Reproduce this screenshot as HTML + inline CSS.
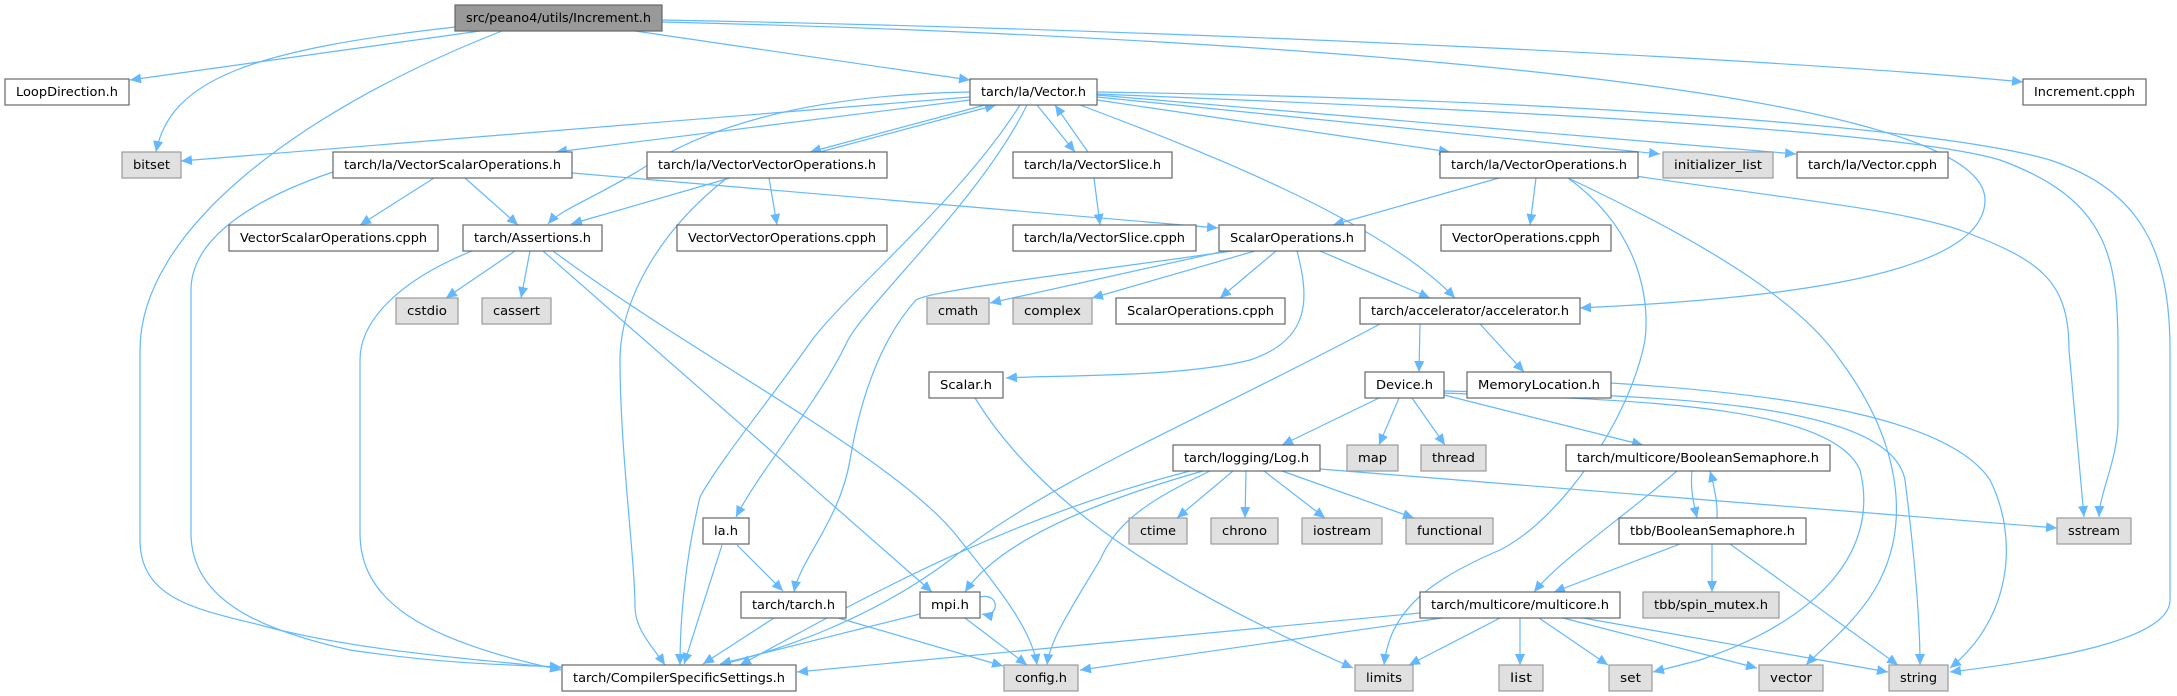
<!DOCTYPE html>
<html><head><meta charset="utf-8"><style>
html,body{margin:0;padding:0;background:#fff;}
svg{display:block;}
text{font-family:"DejaVu Sans","Liberation Sans",sans-serif;font-size:12px;fill:#000;}
.e{fill:none;stroke:#63b8ff;stroke-width:1.2;marker-end:url(#a);}
.n{fill:#fff;stroke:#666;stroke-width:1.2;}
.g{fill:#e0e0e0;stroke:#999;stroke-width:1.2;}
.r{fill:#999;stroke:#666;stroke-width:1.2;}
</style></head><body>
<svg width="2177" height="696" viewBox="0 0 2177 696" xmlns="http://www.w3.org/2000/svg">
<defs><marker id="a" markerUnits="userSpaceOnUse" markerWidth="12" markerHeight="10" refX="11" refY="5" orient="auto"><path d="M0,0 L11,5 L0,10 z" fill="#63b8ff"/></marker></defs>
<g>
<!-- Increment.h -->
<path class="e" d="M480,31 L130,80"/>
<path class="e" d="M455,27 C250,50 170,80 156,152"/>
<path class="e" d="M502,31 C300,110 140,230 140,350 L140,540 C140,600 200,610 260,625 C350,650 480,660 561,668"/>
<path class="e" d="M635,31 L970,80"/>
<path class="e" d="M662,20 C1200,30 1800,60 2023,82"/>
<path class="e" d="M662,22 C1200,35 1985,80 1985,200 C1985,280 1750,300 1580,308"/>
<!-- Vector.h -->
<path class="e" d="M970,97 L181,161"/>
<path class="e" d="M970,100 L556,152"/>
<path class="e" d="M970,92 C800,95 700,130 640,170 C590,200 560,210 548,224"/>
<path class="e" d="M985,105 L810,152"/>
<path class="e" d="M820,152 L996,105"/>
<path class="e" d="M1027,105 C980,200 870,300 848,340 C820,400 760,470 736,517"/>
<path class="e" d="M1020,105 C960,200 850,290 812,340 C770,400 720,460 700,497 C685,560 680,620 680,665"/>
<path class="e" d="M1037,105 L1075,152"/>
<path class="e" d="M1088,152 L1055,105"/>
<path class="e" d="M1080,105 C1200,150 1380,220 1455,298"/>
<path class="e" d="M1097,100 L1450,152"/>
<path class="e" d="M1097,97 L1660,154"/>
<path class="e" d="M1097,95 L1796,154"/>
<path class="e" d="M1097,94 C1500,110 1900,130 2000,160 C2110,200 2118,260 2118,350 L2118,420 C2118,460 2100,490 2099,517"/>
<path class="e" d="M1097,92 C1600,100 1950,130 2050,160 C2140,190 2170,250 2170,350 L2170,600 C2170,640 2050,660 1950,672"/>
<!-- VSO.h -->
<path class="e" d="M434,178 L360,225"/>
<path class="e" d="M465,178 L518,225"/>
<path class="e" d="M572,173 L1218,228"/>
<path class="e" d="M333,172 C250,200 191,240 191,290 L191,533 C191,600 260,630 350,650 C450,665 520,665 561,667"/>
<!-- VVO.h -->
<path class="e" d="M730,178 L571,224"/>
<path class="e" d="M769,178 L777,225"/>
<path class="e" d="M727,178 C660,230 620,300 620,360 C620,450 635,560 635,607 C635,630 655,650 665,665"/>
<!-- VectorSlice -->
<path class="e" d="M1094,178 L1100,225"/>
<!-- Assertions -->
<path class="e" d="M472,251 C400,280 360,320 360,360 L360,533 C360,600 420,640 561,670"/>
<path class="e" d="M515,251 L446,298"/>
<path class="e" d="M530,251 L521,298"/>
<path class="e" d="M543,251 L932,592"/>
<path class="e" d="M553,251 C700,360 900,460 960,540 C1000,590 1032,630 1037,665"/>
<!-- ScalarOperations.h -->
<path class="e" d="M1225,251 L990,303"/>
<path class="e" d="M1255,251 L1092,298"/>
<path class="e" d="M1276,251 L1220,298"/>
<path class="e" d="M1297,251 C1310,300 1310,340 1250,360 C1180,378 1050,375 1006,378"/>
<path class="e" d="M1232,251 C1100,270 930,290 916,300 C880,340 860,400 850,460 C840,520 800,560 794,592"/>
<path class="e" d="M1320,251 L1430,298"/>
<!-- VectorOperations.h -->
<path class="e" d="M1499,178 L1333,225"/>
<path class="e" d="M1536,178 L1530,225"/>
<path class="e" d="M1568,178 C1640,230 1650,300 1645,340 C1630,420 1560,520 1500,550 C1430,580 1390,610 1384,665"/>
<path class="e" d="M1568,178 C1700,240 1800,300 1840,360 C1900,440 1910,520 1880,580 C1860,620 1820,650 1806,665"/>
<path class="e" d="M1635,176 C1800,200 1900,210 1960,230 C2040,260 2069,280 2069,350 L2084,517"/>
<!-- accelerator -->
<path class="e" d="M1420,324 L1419,372"/>
<path class="e" d="M1480,324 L1524,372"/>
<path class="e" d="M1380,324 C1200,420 1050,480 950,560 C870,620 780,650 720,665"/>
<!-- Device.h -->
<path class="e" d="M1379,398 L1282,445"/>
<path class="e" d="M1399,398 L1379,445"/>
<path class="e" d="M1412,398 L1445,445"/>
<path class="e" d="M1444,395 L1643,445"/>
<path class="e" d="M1444,393 C1600,400 1830,400 1860,470 C1880,550 1820,620 1700,660 L1653,672"/>
<path class="e" d="M1444,391 C1650,395 1890,400 1905,480 C1915,560 1920,620 1920,665"/>
<!-- MemoryLocation -->
<path class="e" d="M1611,383 C1800,395 1950,420 1990,480 C2020,540 2010,620 1950,668"/>
<!-- Log.h -->
<path class="e" d="M1233,471 L1177,518"/>
<path class="e" d="M1246,471 L1245,518"/>
<path class="e" d="M1264,471 L1325,518"/>
<path class="e" d="M1282,471 L1414,518"/>
<path class="e" d="M1320,469 L2057,528"/>
<path class="e" d="M1203,471 C1100,500 1000,540 965,592"/>
<path class="e" d="M1210,471 C1150,500 1118,520 1100,560 C1070,610 1050,640 1047,665"/>
<path class="e" d="M1190,471 C1000,520 860,600 740,665"/>
<!-- mpi.h -->
<path class="e" d="M980,597 C1000,592 1000,618 982,614"/>
<path class="e" d="M920,614 L720,664"/>
<path class="e" d="M965,618 L1027,665"/>
<!-- tarch.h -->
<path class="e" d="M774,618 L703,664"/>
<path class="e" d="M835,617 L1003,666"/>
<!-- la.h -->
<path class="e" d="M722,545 L684,664"/>
<path class="e" d="M737,545 L783,591"/>
<!-- BooleanSemaphore -->
<path class="e" d="M1692,471 C1690,490 1694,505 1697,518"/>
<path class="e" d="M1717,518 C1718,505 1714,485 1710,471"/>
<path class="e" d="M1677,471 C1620,520 1560,560 1534,592"/>
<path class="e" d="M1680,544 L1554,592"/>
<path class="e" d="M1712,544 L1712,592"/>
<path class="e" d="M1730,544 L1898,665"/>
<!-- multicore -->
<path class="e" d="M1420,613 L797,672"/>
<path class="e" d="M1442,618 L1080,670"/>
<path class="e" d="M1500,618 L1409,665"/>
<path class="e" d="M1520,618 L1520,665"/>
<path class="e" d="M1539,618 L1608,665"/>
<path class="e" d="M1563,618 L1757,668"/>
<path class="e" d="M1583,618 L1888,672"/>
<!-- Scalar.h -->
<path class="e" d="M975,398 C1050,520 1200,600 1353,668"/>
</g>
<g>
<rect class="r" x="455" y="5" width="207" height="26"/><text x="558.5" y="22" text-anchor="middle" textLength="185" lengthAdjust="spacingAndGlyphs">src/peano4/utils/Increment.h</text>
<rect class="n" x="5" y="79" width="124" height="26"/><text x="67" y="96" text-anchor="middle" textLength="102" lengthAdjust="spacingAndGlyphs">LoopDirection.h</text>
<rect class="n" x="970" y="79" width="127" height="26"/><text x="1033.5" y="96" text-anchor="middle" textLength="105" lengthAdjust="spacingAndGlyphs">tarch/la/Vector.h</text>
<rect class="n" x="2023" y="79" width="123" height="26"/><text x="2084.5" y="96" text-anchor="middle" textLength="101" lengthAdjust="spacingAndGlyphs">Increment.cpph</text>

<rect class="g" x="122" y="152" width="59" height="26"/><text x="151.5" y="169" text-anchor="middle" textLength="37" lengthAdjust="spacingAndGlyphs">bitset</text>
<rect class="n" x="333" y="152" width="239" height="26"/><text x="452.5" y="169" text-anchor="middle" textLength="217" lengthAdjust="spacingAndGlyphs">tarch/la/VectorScalarOperations.h</text>
<rect class="n" x="647" y="152" width="240" height="26"/><text x="767" y="169" text-anchor="middle" textLength="218" lengthAdjust="spacingAndGlyphs">tarch/la/VectorVectorOperations.h</text>
<rect class="n" x="1013" y="152" width="159" height="26"/><text x="1092.5" y="169" text-anchor="middle" textLength="137" lengthAdjust="spacingAndGlyphs">tarch/la/VectorSlice.h</text>
<rect class="n" x="1440" y="152" width="198" height="26"/><text x="1539" y="169" text-anchor="middle" textLength="176" lengthAdjust="spacingAndGlyphs">tarch/la/VectorOperations.h</text>
<rect class="g" x="1663" y="152" width="110" height="26"/><text x="1718" y="169" text-anchor="middle" textLength="88" lengthAdjust="spacingAndGlyphs">initializer_list</text>
<rect class="n" x="1797" y="152" width="151" height="26"/><text x="1872.5" y="169" text-anchor="middle" textLength="129" lengthAdjust="spacingAndGlyphs">tarch/la/Vector.cpph</text>

<rect class="n" x="229" y="225" width="209" height="26"/><text x="333.5" y="242" text-anchor="middle" textLength="187" lengthAdjust="spacingAndGlyphs">VectorScalarOperations.cpph</text>
<rect class="n" x="463" y="225" width="139" height="26"/><text x="532.5" y="242" text-anchor="middle" textLength="117" lengthAdjust="spacingAndGlyphs">tarch/Assertions.h</text>
<rect class="n" x="677" y="225" width="210" height="26"/><text x="782" y="242" text-anchor="middle" textLength="188" lengthAdjust="spacingAndGlyphs">VectorVectorOperations.cpph</text>
<rect class="n" x="1013" y="225" width="183" height="26"/><text x="1104.5" y="242" text-anchor="middle" textLength="161" lengthAdjust="spacingAndGlyphs">tarch/la/VectorSlice.cpph</text>
<rect class="n" x="1219" y="225" width="146" height="26"/><text x="1292" y="242" text-anchor="middle" textLength="124" lengthAdjust="spacingAndGlyphs">ScalarOperations.h</text>
<rect class="n" x="1441" y="225" width="170" height="26"/><text x="1526" y="242" text-anchor="middle" textLength="148" lengthAdjust="spacingAndGlyphs">VectorOperations.cpph</text>

<rect class="g" x="396" y="298" width="62" height="26"/><text x="427" y="315" text-anchor="middle" textLength="40" lengthAdjust="spacingAndGlyphs">cstdio</text>
<rect class="g" x="482" y="298" width="69" height="26"/><text x="516.5" y="315" text-anchor="middle" textLength="47" lengthAdjust="spacingAndGlyphs">cassert</text>
<rect class="g" x="927" y="298" width="62" height="26"/><text x="958" y="315" text-anchor="middle" textLength="40" lengthAdjust="spacingAndGlyphs">cmath</text>
<rect class="g" x="1013" y="298" width="79" height="26"/><text x="1052.5" y="315" text-anchor="middle" textLength="57" lengthAdjust="spacingAndGlyphs">complex</text>
<rect class="n" x="1116" y="298" width="169" height="26"/><text x="1200.5" y="315" text-anchor="middle" textLength="147" lengthAdjust="spacingAndGlyphs">ScalarOperations.cpph</text>
<rect class="n" x="1360" y="298" width="220" height="26"/><text x="1470" y="315" text-anchor="middle" textLength="198" lengthAdjust="spacingAndGlyphs">tarch/accelerator/accelerator.h</text>

<rect class="n" x="929" y="372" width="74" height="26"/><text x="966" y="389" text-anchor="middle" textLength="52" lengthAdjust="spacingAndGlyphs">Scalar.h</text>
<rect class="n" x="1365" y="372" width="79" height="26"/><text x="1404.5" y="389" text-anchor="middle" textLength="57" lengthAdjust="spacingAndGlyphs">Device.h</text>
<rect class="n" x="1467" y="372" width="144" height="26"/><text x="1539" y="389" text-anchor="middle" textLength="122" lengthAdjust="spacingAndGlyphs">MemoryLocation.h</text>

<rect class="n" x="1173" y="445" width="147" height="26"/><text x="1246.5" y="462" text-anchor="middle" textLength="125" lengthAdjust="spacingAndGlyphs">tarch/logging/Log.h</text>
<rect class="g" x="1347" y="445" width="51" height="26"/><text x="1372.5" y="462" text-anchor="middle" textLength="29" lengthAdjust="spacingAndGlyphs">map</text>
<rect class="g" x="1421" y="445" width="65" height="26"/><text x="1453.5" y="462" text-anchor="middle" textLength="43" lengthAdjust="spacingAndGlyphs">thread</text>
<rect class="n" x="1566" y="445" width="264" height="26"/><text x="1698" y="462" text-anchor="middle" textLength="242" lengthAdjust="spacingAndGlyphs">tarch/multicore/BooleanSemaphore.h</text>

<rect class="n" x="703" y="518" width="46" height="26"/><text x="726" y="535" text-anchor="middle" textLength="24" lengthAdjust="spacingAndGlyphs">la.h</text>
<rect class="g" x="1129" y="518" width="58" height="26"/><text x="1158" y="535" text-anchor="middle" textLength="36" lengthAdjust="spacingAndGlyphs">ctime</text>
<rect class="g" x="1211" y="518" width="67" height="26"/><text x="1244.5" y="535" text-anchor="middle" textLength="45" lengthAdjust="spacingAndGlyphs">chrono</text>
<rect class="g" x="1302" y="518" width="80" height="26"/><text x="1342" y="535" text-anchor="middle" textLength="58" lengthAdjust="spacingAndGlyphs">iostream</text>
<rect class="g" x="1406" y="518" width="87" height="26"/><text x="1449.5" y="535" text-anchor="middle" textLength="65" lengthAdjust="spacingAndGlyphs">functional</text>
<rect class="n" x="1619" y="518" width="187" height="26"/><text x="1712.5" y="535" text-anchor="middle" textLength="165" lengthAdjust="spacingAndGlyphs">tbb/BooleanSemaphore.h</text>
<rect class="g" x="2057" y="518" width="74" height="26"/><text x="2094" y="535" text-anchor="middle" textLength="52" lengthAdjust="spacingAndGlyphs">sstream</text>

<rect class="n" x="741" y="592" width="105" height="26"/><text x="793.5" y="609" text-anchor="middle" textLength="83" lengthAdjust="spacingAndGlyphs">tarch/tarch.h</text>
<rect class="n" x="920" y="592" width="60" height="26"/><text x="950" y="609" text-anchor="middle" textLength="38" lengthAdjust="spacingAndGlyphs">mpi.h</text>
<rect class="n" x="1420" y="592" width="200" height="26"/><text x="1520" y="609" text-anchor="middle" textLength="178" lengthAdjust="spacingAndGlyphs">tarch/multicore/multicore.h</text>
<rect class="g" x="1643" y="592" width="136" height="26"/><text x="1711" y="609" text-anchor="middle" textLength="114" lengthAdjust="spacingAndGlyphs">tbb/spin_mutex.h</text>

<rect class="n" x="562" y="665" width="234" height="26"/><text x="679" y="682" text-anchor="middle" textLength="212" lengthAdjust="spacingAndGlyphs">tarch/CompilerSpecificSettings.h</text>
<rect class="g" x="1004" y="665" width="74" height="26"/><text x="1041" y="682" text-anchor="middle" textLength="52" lengthAdjust="spacingAndGlyphs">config.h</text>
<rect class="g" x="1355" y="665" width="58" height="26"/><text x="1384" y="682" text-anchor="middle" textLength="36" lengthAdjust="spacingAndGlyphs">limits</text>
<rect class="g" x="1499" y="665" width="44" height="26"/><text x="1521" y="682" text-anchor="middle" textLength="22" lengthAdjust="spacingAndGlyphs">list</text>
<rect class="g" x="1609" y="665" width="43" height="26"/><text x="1630.5" y="682" text-anchor="middle" textLength="21" lengthAdjust="spacingAndGlyphs">set</text>
<rect class="g" x="1759" y="665" width="64" height="26"/><text x="1791" y="682" text-anchor="middle" textLength="42" lengthAdjust="spacingAndGlyphs">vector</text>
<rect class="g" x="1889" y="665" width="59" height="26"/><text x="1918.5" y="682" text-anchor="middle" textLength="37" lengthAdjust="spacingAndGlyphs">string</text>
</g>
</svg>
</body></html>
